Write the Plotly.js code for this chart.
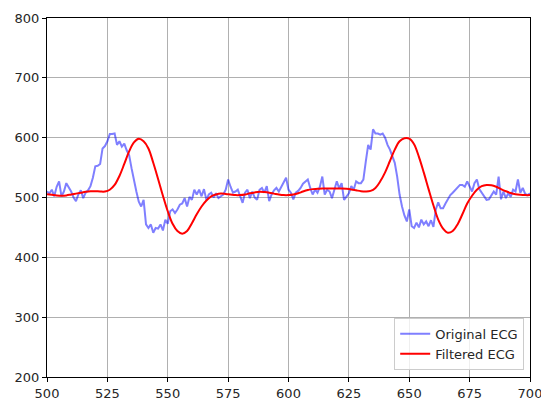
<!DOCTYPE html>
<html>
<head>
<meta charset="utf-8">
<script src="https://cdn.plot.ly/plotly-3.0.1.min.js"></script>
<style>html,body{margin:0;padding:0;background:#fff;}#chart{width:541px;height:401px;}</style>
</head>
<body>
<div id="chart"></div>
<script>
// Original ECG samples, one per index starting at 500
const originalStart = 500;
const originalECG = [
510,507,513,502,518,527,502,510,524,518,
510,500,494,505,512,499,508,512,519,533,
552,553,556,582,586,594,606,606,607,588,
594,585,590,579,571,549,527,510,493,485,
496,455,449,455,441,449,448,455,445,463,
456,477,480,474,480,488,490,499,485,501,
496,513,505,513,502,514,496,505,508,500,
507,499,502,505,513,530,518,508,510,513,
502,491,508,513,499,510,500,496,513,516,
508,519,494,505,512,516,510,518,524,533,
513,508,497,508,511,516,523,527,530,516,
505,513,508,518,535,505,513,510,499,513,
527,515,524,496,502,507,519,513,527,524,
524,530,560,588,580,614,607,607,605,607,
600,588,580,569,558,535,505,485,470,460,
480,452,449,458,450,463,455,460,452,462,
451,480,492,482,482,490,498,504,508,513,
516,521,521,518,527,518,510,524,530,514,
508,502,496,497,503,510,505,535,497,510,
499,507,501,513,510,530,508,516,506,504,
507
];
// Filtered ECG, read every 2 index units starting at 500
const filteredStart = 500;
const filteredStep = 2;
const filteredECG = [
505.5,504.5,503.5,503,503.5,505,506.5,508,509.5,510.5,
510.5,510,510,513,521,536,556,577,592,598,
594,582,558,531,503,477,456,444,439.5,444,
457,472,485,495,502,505,506.5,506,505,504,
504,505,507,508.5,509.5,509,508,506.5,505,504,
504,505,507,510,512.5,514,514.5,515,515,515,
515,515,514.5,513.5,512,510.5,510,511,516,527,
542,561,580,594,599,598.5,589,568,542,514,
487,463,448,441,444,455,472,490,503,513,
519,521,520.5,518,514,510.5,507.5,505.5,504.5,504,
504
];
const xTicks = [500,525,550,575,600,625,650,675,700];
const yTicks = [200,300,400,500,600,700,800];
const seriesNames = ['Original ECG','Filtered ECG'];

const xOrig = originalECG.map((_, i) => originalStart + i);
const xFilt = filteredECG.map((_, i) => filteredStart + i * filteredStep);

const axisCommon = {
  showline: true, mirror: true, linecolor: '#000', linewidth: 1,
  showgrid: true, gridcolor: '#b0b0b0', gridwidth: 1,
  ticks: 'outside', ticklen: 4, tickcolor: '#000', tickwidth: 1,
  zeroline: false, ticklabeloverflow: 'allow',
  tickfont: {family: 'DejaVu Sans', size: 13, color: '#262626'}
};

const data = [
  {x: xOrig, y: originalECG, type: 'scatter', mode: 'lines', name: seriesNames[0],
   line: {color: 'rgba(0,0,255,0.5)', width: 2}},
  {x: xFilt, y: filteredECG, type: 'scatter', mode: 'lines', name: seriesNames[1],
   line: {color: '#ff0000', width: 2, shape: 'spline', smoothing: 1}}
];

const layout = {
  width: 541, height: 401,
  margin: {l: 47, r: 11, t: 18, b: 24},
  paper_bgcolor: '#fff', plot_bgcolor: '#fff',
  showlegend: true,
  xaxis: Object.assign({}, axisCommon, {range: [500, 700], tickvals: xTicks, ticktext: xTicks.map(String)}),
  yaxis: Object.assign({}, axisCommon, {range: [200, 800], tickvals: yTicks, ticktext: yTicks.map(String)}),
  legend: {x: 0.988, y: 0.02, xanchor: 'right', yanchor: 'bottom',
    bgcolor: 'rgba(255,255,255,0.8)', bordercolor: '#cccccc', borderwidth: 1,
    font: {family: 'DejaVu Sans', size: 13, color: '#262626'}}
};

Plotly.newPlot('chart', data, layout, {displayModeBar: false, staticPlot: true});
</script>
</body>
</html>
